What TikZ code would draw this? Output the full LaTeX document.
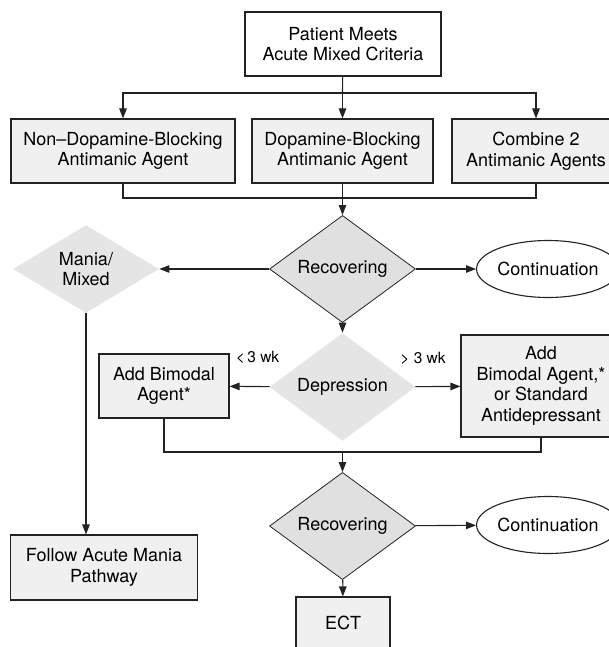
\documentclass[tikz,border=0pt]{standalone}
\usepackage{fontspec}
\setmainfont{TeX Gyre Heros}
\usetikzlibrary{arrows.meta,shapes.geometric}
\definecolor{linecol}{RGB}{35,35,35}
\definecolor{boxfill}{RGB}{240,240,240}
\definecolor{recfill}{RGB}{224,224,224}
\definecolor{decfill}{RGB}{229,229,229}

\begin{document}
\begin{tikzpicture}[x=1pt, y=-1pt,
  box/.style={rectangle, draw=linecol, fill=boxfill, line width=1.1pt,
              inner sep=0pt, minimum height=64pt, align=center,
              font=\fontsize{18}{20.5}\selectfont},
  topbox/.style={box, fill=white},
  recov/.style={diamond, draw=linecol, fill=recfill, line width=0.8pt,
                inner sep=0pt, minimum width=146pt, minimum height=88pt,
                align=center, font=\fontsize{18}{20.5}\selectfont},
  decide/.style={recov, draw=none, fill=decfill},
  contin/.style={ellipse, draw=linecol, fill=white, line width=1.1pt,
                 inner sep=0pt, minimum width=140pt, minimum height=57pt,
                 font=\fontsize{18}{20.5}\selectfont},
  arr/.style={-{Triangle[length=10pt,width=7.5pt]}, line width=1.1pt, linecol},
  link/.style={line width=1.1pt, linecol},
  wklabel/.style={font=\fontsize{15.5}{17}\selectfont, inner sep=0pt},
]
\useasboundingbox (0,0) rectangle (608,647);

% Start and first-line agents
\node[topbox, minimum width=196pt] (start) at (343,44)
  {Patient Meets\\Acute Mixed Criteria};
\node[box, minimum width=224pt] (nondop) at (123,151)
  {Non--Dopamine-Blocking\\Antimanic Agent};
\node[box, minimum width=181pt] (dop) at (342.5,151)
  {Dopamine-Blocking\\Antimanic Agent};
\node[box, minimum width=168pt] (comb) at (536,151)
  {Combine 2\\Antimanic Agents};

\coordinate (split) at (342.5,93);
\coordinate (merge) at (342.5,198);

\draw[link] (start) -- (split);
\draw[arr] (split) -| (nondop);
\draw[arr] (split) -- (dop);
\draw[arr] (split) -| (comb);
\draw[link] (nondop) |- (merge);
\draw[link] (comb) |- (merge);
\draw[link] (dop) -- (merge);

% First check
\node[recov] (rec1) at (342.5,269) {Recovering};
\node[decide] (mania) at (86,269) {Mania/\\Mixed};
\node[contin] (cont1) at (548,269) {Continuation};
\node[box, minimum width=187pt, minimum height=65pt] (follow) at (104,567.5)
  {Follow Acute Mania\\Pathway};

\draw[arr] (merge) -- (rec1);
\draw[arr] (rec1) -- (mania);
\draw[arr] (rec1) -- (cont1);
\draw[arr] (mania.south) -- (mania.south |- follow.north);

% Depression branch
\node[decide] (dep) at (342.5,387) {Depression};
\node[box, minimum width=130pt] (addbim) at (164,386)
  {Add Bimodal\\Agent*};
\node[box, minimum width=160pt, minimum height=102pt] (addanti) at (541,386)
  {Add\\Bimodal Agent,*\\or Standard\\Antidepressant};
\node[wklabel] (short) at (257.5,357) {<\,3 wk};
\node[wklabel] (long) at (423,358) {> 3 wk};

\draw[arr] (rec1) -- (dep);
\draw[arr] (dep) -- (addbim);
\draw[arr] (dep) -- (addanti);

\coordinate (join) at (342.5,452);
\draw[link] (addbim) |- (join);
\draw[link] (addanti) |- (join);

% Second check
\node[recov] (rec2) at (342.5,526) {Recovering};
\node[contin] (cont2) at (548,525) {Continuation};
\node[box, minimum width=94pt, minimum height=52pt] (ect) at (343,623) {ECT};

\draw[arr] (join) -- (rec2);
\draw[arr] (rec2) -- (cont2);
\draw[arr] (rec2) -- (ect);

\end{tikzpicture}
\end{document}
